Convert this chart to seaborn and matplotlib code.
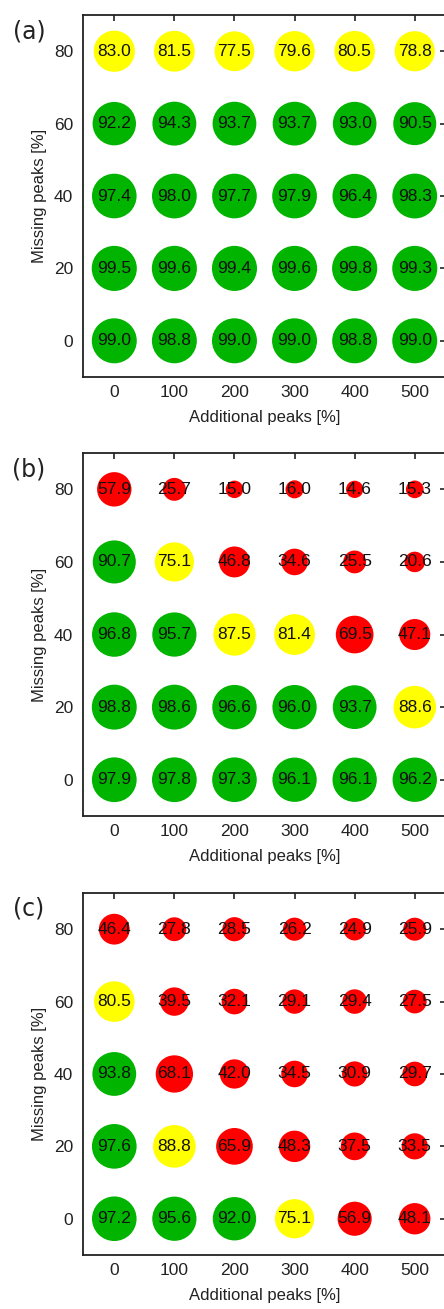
import numpy as np
import pandas as pd
import seaborn as sns
import matplotlib.pyplot as plt

additional = [0, 100, 200, 300, 400, 500]
missing = [0, 20, 40, 60, 80]

# rows = missing peaks 0..80, columns = additional peaks 0..500
vals_a = [[99.0, 98.8, 99.0, 99.0, 98.8, 99.0],
          [99.5, 99.6, 99.4, 99.6, 99.8, 99.3],
          [97.4, 98.0, 97.7, 97.9, 96.4, 98.3],
          [92.2, 94.3, 93.7, 93.7, 93.0, 90.5],
          [83.0, 81.5, 77.5, 79.6, 80.5, 78.8]]
vals_b = [[97.9, 97.8, 97.3, 96.1, 96.1, 96.2],
          [98.8, 98.6, 96.6, 96.0, 93.7, 88.6],
          [96.8, 95.7, 87.5, 81.4, 69.5, 47.1],
          [90.7, 75.1, 46.8, 34.6, 25.5, 20.6],
          [57.9, 25.7, 15.0, 16.0, 14.6, 15.3]]
vals_c = [[97.2, 95.6, 92.0, 75.1, 56.9, 48.1],
          [97.6, 88.8, 65.9, 48.3, 37.5, 33.5],
          [93.8, 68.1, 42.0, 34.5, 30.9, 29.7],
          [80.5, 39.5, 32.1, 29.1, 29.4, 27.5],
          [46.4, 27.8, 28.5, 26.2, 24.9, 25.9]]
panel_labels = ["(a)", "(b)", "(c)"]

palette = {"good": "#00b400", "mid": "#ffff00", "bad": "#ff0000"}

sns.set_style("white")
plt.rcParams["font.family"] = ["Liberation Sans", "DejaVu Sans"]

fig = plt.figure(figsize=(4.44, 13.09), dpi=100)

# axes boxes in figure fractions (right edge runs off the image like the original)
boxes = [[0.187, 0.712, 0.8175, 0.2765],
         [0.187, 0.3766, 0.8175, 0.2773],
         [0.187, 0.0413, 0.8175, 0.2765]]

for vals, lab, box in zip([vals_a, vals_b, vals_c], panel_labels, boxes):
    rows = []
    for i, m in enumerate(missing):
        for j, a in enumerate(additional):
            v = vals[i][j]
            cls = "good" if v >= 90 else ("mid" if v >= 75 else "bad")
            rows.append({"add": a, "miss": m, "val": v, "cls": cls})
    df = pd.DataFrame(rows)

    ax = fig.add_axes(box)
    sns.scatterplot(data=df, x="add", y="miss", hue="cls", palette=palette,
                    size="val", sizes=(0, 1060), size_norm=(0, 100),
                    linewidth=0, legend=False, ax=ax, zorder=2)
    for _, r in df.iterrows():
        ax.text(r["add"], r["miss"], f"{r['val']:.1f}", ha="center", va="center",
                fontsize=12.5, color="#111111", zorder=3)

    ax.set_xlim(-52, 552)
    ax.set_ylim(-10, 90)
    ax.set_xticks(additional)
    ax.set_yticks(missing)
    ax.tick_params(direction="in", length=4, width=1.2, top=True, right=True,
                   labelsize=12.5, colors="#222222")
    ax.tick_params(axis="x", pad=6)
    ax.tick_params(axis="y", pad=7)
    for s in ax.spines.values():
        s.set_linewidth(1.3)
        s.set_color("#222222")
    ax.set_xlabel("Additional peaks [%]", fontsize=12, labelpad=7, color="#222222")
    ax.set_ylabel("Missing peaks [%]", fontsize=12, labelpad=5, color="#222222")

    top_px = (1 - box[1] - box[3]) * 1309
    fig.text(29 / 444, 1 - (top_px + 16) / 1309, lab, fontsize=17,
             family="DejaVu Sans", ha="center", va="center", color="#222222")

fig.savefig("out.png", dpi=100)
